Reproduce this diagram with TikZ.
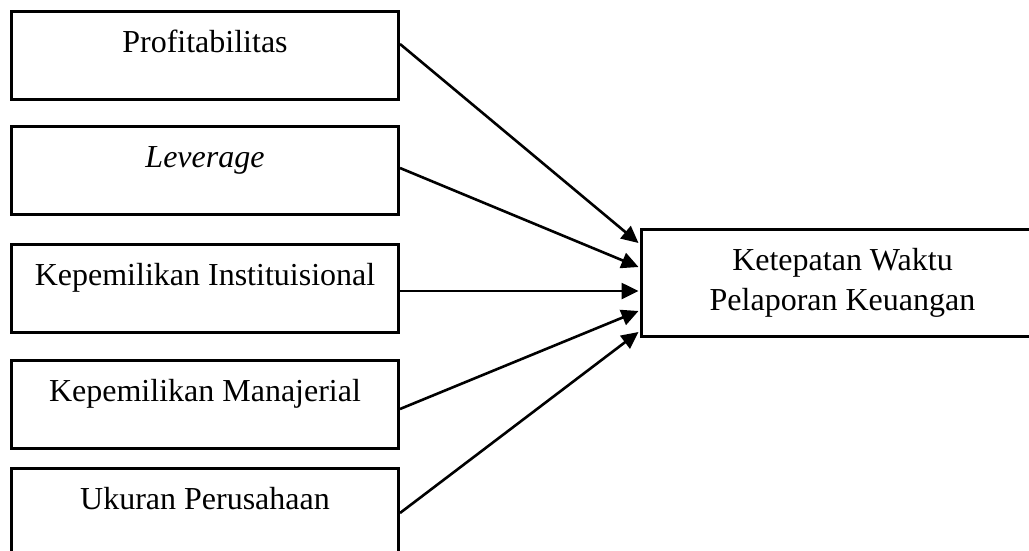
\documentclass[tikz,border=0pt]{standalone}
\usepackage{fontspec}
\setmainfont{Liberation Serif}
\usetikzlibrary{arrows.meta}
\begin{document}
\begin{tikzpicture}[x=1pt,y=-1pt,
  every node/.style={font=\fontsize{32}{40}\selectfont},
  varbox/.style={draw, line width=3pt, anchor=north west, inner sep=0pt,
    minimum width=387pt, text height=41pt, text depth=47pt, align=center},
  outbox/.style={draw, line width=3pt, anchor=north west, inner sep=0pt,
    minimum width=402pt, minimum height=107pt, align=center},
  link/.style={line width=2.6pt, -{Triangle[length=17pt,width=16pt]}}]
\useasboundingbox (0,0) rectangle (1029,550);
\node[varbox] (b1) at (10,10) {Profitabilitas};
\node[varbox] (b2) at (10,125) {\itshape Leverage};
\node[varbox] (b3) at (10,243) {Kepemilikan Instituisional};
\node[varbox] (b4) at (10,359) {Kepemilikan Manajerial};
\node[varbox] (b5) at (10,467) {Ukuran Perusahaan};
\node[outbox] (r) at (640,228) {Ketepatan Waktu\\Pelaporan Keuangan};
\draw[link] ([yshift=-34pt]b1.north east) -- ([yshift=-15pt,xshift=-1.5pt]r.north west);
\draw[link] ([yshift=-43pt]b2.north east) -- ([yshift=-39pt,xshift=-1.5pt]r.north west);
\draw[link] ([yshift=-48pt]b3.north east) -- ([yshift=-63pt,xshift=-1.5pt]r.north west);
\draw[link] ([yshift=-50pt]b4.north east) -- ([yshift=-83pt,xshift=-1.5pt]r.north west);
\draw[link] ([yshift=-46pt]b5.north east) -- ([yshift=-104pt,xshift=-1.5pt]r.north west);
\end{tikzpicture}
\end{document}
